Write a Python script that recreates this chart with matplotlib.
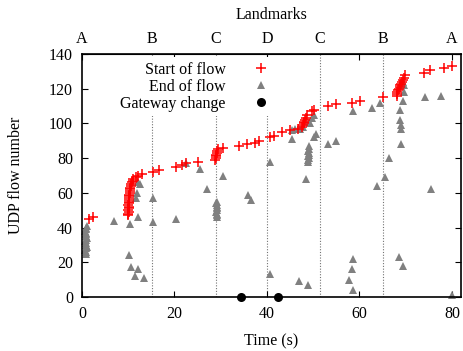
import matplotlib
matplotlib.use('Agg')
import matplotlib.pyplot as plt

plt.rcParams['font.family'] = ['Liberation Serif', 'DejaVu Serif']
plt.rcParams['font.size'] = 11.5

# start of flow: time (s), flow number
start_time = [1.6, 2.4,
              10.0, 10.0, 10.1, 10.0, 10.1, 10.1, 10.0, 10.1, 10.1, 10.2, 10.1, 10.2, 10.2, 10.3,
              10.3, 10.4, 10.4, 10.5, 10.6, 10.8, 11.0, 11.1, 11.6, 12.2, 12.9,
              15.3, 16.7, 20.3, 21.6, 22.4, 25.2,
              28.8, 28.9, 28.9, 29.0, 29.1, 29.2, 29.4, 30.6,
              34.0, 35.6, 37.4, 38.2, 40.7, 41.5, 43.2, 44.9, 46.8, 47.6,
              47.9, 48.0, 48.1, 48.2, 48.4, 48.6, 49.7, 50.1, 53.3, 54.9, 58.4, 60.2, 65.1,
              68.1, 68.2, 68.2, 68.3, 68.5, 68.7, 68.8, 69.0, 69.2, 69.4, 69.6, 69.9,
              73.9, 75.3, 78.2, 80.0]
start_flow = [45, 46,
              47, 48, 49, 50, 51, 52, 53, 54, 55, 56, 57, 58, 59, 60,
              61, 62, 63, 64, 65, 66, 67, 68, 69, 70, 71,
              72, 73, 75, 76, 77, 78,
              79, 80, 81, 82, 83, 84, 85, 86,
              87, 88, 89, 90, 92, 93, 95, 96, 97, 98,
              99, 100, 101, 102, 103, 105, 107, 108, 110, 111, 112, 113, 115,
              116, 117, 118, 119, 120, 121, 122, 123, 124, 125, 126, 128,
              129, 131, 132, 133]

# end of flow: time (s), flow number
end_time = [0.8, 0.9, 0.7, 0.8, 1.0, 0.8, 0.9, 0.7, 0.8, 1.0, 0.8, 0.9, 0.8, 0.7, 0.9, 0.8, 1.0,
            7.0, 10.4, 12.1, 15.3, 20.3, 15.3, 11.7, 12.0, 12.2, 12.5,
            10.2, 10.5, 12.2, 11.5, 13.5,
            22.6, 25.5, 30.5, 27.0,
            29.2, 29.1, 29.3, 29.0, 29.2, 29.1, 29.3, 29.2, 29.0, 29.3,
            35.9, 36.5, 40.7, 40.7,
            45.4, 45.4, 46.1, 47.2, 47.0, 48.8, 48.5,
            48.9, 48.8, 49.0, 48.9, 49.1, 49.0, 48.9, 49.1, 49.0,
            50.1, 50.6, 47.8, 49.0, 49.4, 49.7, 50.1,
            53.3, 55.0, 58.7,
            58.6, 58.4, 57.8, 58.7,
            62.7, 64.4, 63.8, 65.6, 66.5,
            68.7, 68.7, 69.0, 69.0, 69.0,
            68.5, 69.4,
            69.4, 69.7, 69.6, 69.5,
            74.2, 77.7, 75.5, 80.0]
end_flow = [25, 26, 27, 28, 29, 30, 31, 32, 33, 34, 35, 36, 37, 38, 39, 40, 41,
            44, 42, 46, 43, 45, 57, 57, 60, 66, 65,
            24, 17, 16, 12, 11,
            77, 74, 70, 62,
            46, 47, 48, 49, 50, 51, 52, 53, 54, 55,
            59, 56, 78, 13,
            91, 96, 97, 97, 9, 7, 68,
            78, 79, 80, 81, 82, 83, 84, 85, 87,
            92, 94, 98, 101, 100, 103, 105,
            88, 90, 107,
            22, 16, 10, 4,
            109, 112, 64, 69, 80,
            108, 102, 99, 97, 88,
            23, 18,
            113, 118, 122, 124,
            115, 116, 62, 1]

gateway_time = [34.3, 42.3]
gateway_flow = [0, 0]

landmark_pos = [0, 15.1, 28.9, 40.0, 51.5, 65.1, 80]
landmark_lbl = ['A', 'B', 'C', 'D', 'C', 'B', 'A']

fig = plt.figure(figsize=(4.63, 3.51), dpi=100)
ax = fig.add_axes([0.177, 0.154, 0.819, 0.692])

for x in landmark_pos[1:-1]:
    ax.axvline(x, color='0.45', ls=(0, (1, 1.5)), lw=0.8, zorder=1)

ax.plot(start_time, start_flow, '+', color='red', ms=7.5, mew=1.1,
        label='Start of flow', zorder=3, clip_on=False)
ax.plot(end_time, end_flow, '^', color='0.5', ms=6, mew=0,
        label='End of flow', zorder=2, clip_on=False)
ax.plot(gateway_time, gateway_flow, 'o', color='black', ms=6.5, mew=0,
        label='Gateway change', zorder=4, clip_on=False)

ax.set_xlim(0, 82)
ax.set_ylim(0, 140)
ax.set_xticks([0, 20, 40, 60, 80])
ax.set_yticks(range(0, 141, 20))
ax.tick_params(direction='in', top=True, right=True, length=4, width=0.8, pad=6.5)
ax.set_xlabel('Time (s)', labelpad=8)
ax.set_ylabel('UDP flow number', labelpad=18)
for s in ax.spines.values():
    s.set_linewidth(1.2)

top = ax.secondary_xaxis('top')
top.set_xticks(landmark_pos)
top.set_xticklabels(landmark_lbl)
top.tick_params(length=0, pad=5)
top.set_xlabel('Landmarks', labelpad=9)

leg = ax.legend(loc='upper right', bbox_to_anchor=(0.535, 1.0), markerfirst=False,
                frameon=True, fancybox=False, edgecolor='none', framealpha=1,
                labelspacing=0.05, handlelength=2.0, handletextpad=1.2,
                borderpad=0.3, borderaxespad=0.2)

fig.savefig('out.png', dpi=100)
